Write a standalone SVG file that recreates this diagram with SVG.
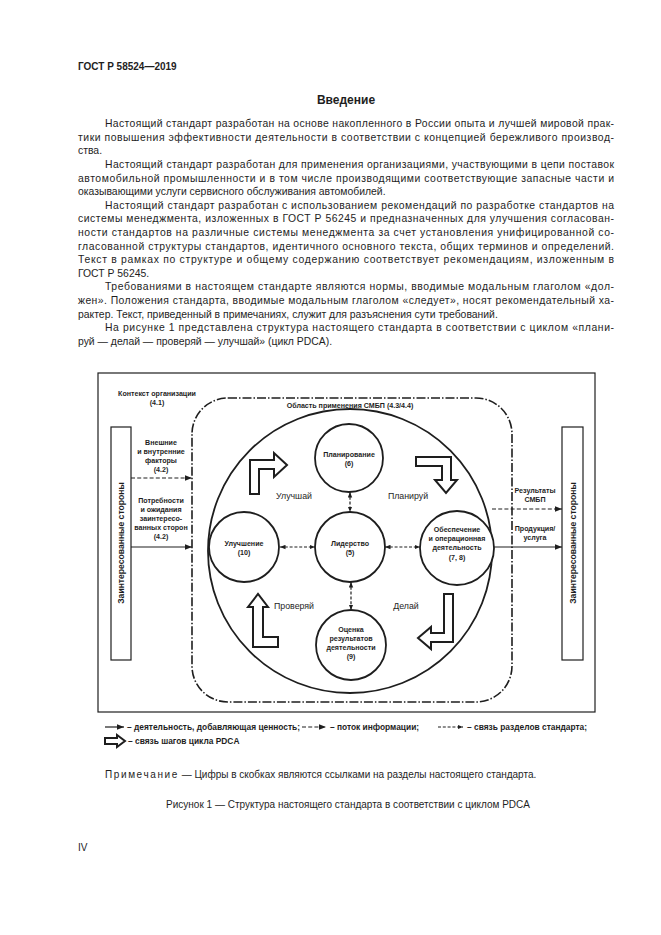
<svg xmlns="http://www.w3.org/2000/svg" width="661" height="935" viewBox="0 0 661 935">
<style>
.t{font-family:"Liberation Sans",Arial,sans-serif;fill:#1e1e1e}
.b{font-size:10.4px}
.d{font-size:7.1px;font-weight:bold}
.lg{font-size:8.4px;font-weight:bold}
.s{font-size:8.8px}
.c{text-anchor:middle}
.ln{fill:none;stroke:#1e1e1e;stroke-width:1.2}
.da{stroke-dasharray:4 2.2}
.dd{stroke-dasharray:3 1.8}
.circ{fill:#fff;stroke:#1e1e1e;stroke-width:1.8}
.hol{fill:#fff;stroke:#1e1e1e;stroke-width:2;stroke-linejoin:miter}
</style>
<defs>
<marker id="ah" markerUnits="userSpaceOnUse" markerWidth="8" markerHeight="6" refX="7" refY="3" orient="auto-start-reverse">
<path d="M0,0.3 L7,3 L0,5.7 z" fill="#1e1e1e"/>
</marker>
<marker id="as" markerUnits="userSpaceOnUse" markerWidth="6" markerHeight="5" refX="5.5" refY="2.5" orient="auto-start-reverse">
<path d="M0,0.3 L5.5,2.5 L0,4.7 z" fill="#1e1e1e"/>
</marker>
</defs>
<rect width="661" height="935" fill="#fff"/>

<g id="page-text">
<text class="t" x="78" y="70" font-size="10" font-weight="bold">ГОСТ Р 58524—2019</text>
<text class="t c" x="346" y="104" font-size="12" font-weight="bold">Введение</text>
<text class="t b" x="105" y="127" textLength="509" lengthAdjust="spacing">Настоящий стандарт разработан на основе накопленного в России опыта и лучшей мировой прак-</text>
<text class="t b" x="78" y="141" textLength="536" lengthAdjust="spacing">тики повышения эффективности деятельности в соответствии с концепцией бережливого производ-</text>
<text class="t b" x="78" y="154">ства.</text>
<text class="t b" x="105" y="168" textLength="509" lengthAdjust="spacing">Настоящий стандарт разработан для применения организациями, участвующими в цепи поставок</text>
<text class="t b" x="78" y="182" textLength="536" lengthAdjust="spacing">автомобильной промышленности и в том числе производящими соответствующие запасные части и</text>
<text class="t b" x="78" y="195">оказывающими услуги сервисного обслуживания автомобилей.</text>
<text class="t b" x="105" y="209" textLength="509" lengthAdjust="spacing">Настоящий стандарт разработан с использованием рекомендаций по разработке стандартов на</text>
<text class="t b" x="78" y="222" textLength="536" lengthAdjust="spacing">системы менеджмента, изложенных в ГОСТ Р 56245 и предназначенных для улучшения согласован-</text>
<text class="t b" x="78" y="236" textLength="536" lengthAdjust="spacing">ности стандартов на различные системы менеджмента за счет установления унифицированной со-</text>
<text class="t b" x="78" y="250" textLength="536" lengthAdjust="spacing">гласованной структуры стандартов, идентичного основного текста, общих терминов и определений.</text>
<text class="t b" x="78" y="263" textLength="536" lengthAdjust="spacing">Текст в рамках по структуре и общему содержанию соответствует рекомендациям, изложенным в</text>
<text class="t b" x="78" y="277">ГОСТ Р 56245.</text>
<text class="t b" x="105" y="290" textLength="509" lengthAdjust="spacing">Требованиями в настоящем стандарте являются нормы, вводимые модальным глаголом «дол-</text>
<text class="t b" x="78" y="304" textLength="536" lengthAdjust="spacing">жен». Положения стандарта, вводимые модальным глаголом «следует», носят рекомендательный ха-</text>
<text class="t b" x="78" y="318">рактер. Текст, приведенный в примечаниях, служит для разъяснения сути требований.</text>
<text class="t b" x="105" y="331" textLength="509" lengthAdjust="spacing">На рисунке 1 представлена структура настоящего стандарта в соответствии с циклом «плани-</text>
<text class="t b" x="78" y="345">руй — делай — проверяй — улучшай» (цикл PDCA).</text>
</g>

<g id="frame">
<rect x="98" y="373" width="497" height="339" fill="none" stroke="#1e1e1e" stroke-width="1.2"/>
</g>

<g id="context">
<text class="t d c" x="157" y="396">Контекст организации</text>
<text class="t d c" x="157" y="405">(4.1)</text>
</g>

<g id="scope">
<rect x="192" y="398" width="320" height="304" rx="36" ry="36" fill="none" stroke="#1e1e1e" stroke-width="1.6" stroke-dasharray="9 2 1.5 2"/>
<text class="t d c" x="350" y="408">Область применения СМБП (4.3/4.4)</text>
</g>

<g id="big-circle">
<circle cx="350" cy="551" r="142" fill="none" stroke="#1e1e1e" stroke-width="1.8"/>
</g>

<g id="stakeholders-left">
<rect x="111" y="427" width="20" height="233" fill="#fff" stroke="#1e1e1e" stroke-width="1.2"/>
<text class="t c" font-size="8.6" font-weight="bold" transform="translate(124,543) rotate(-90)">Заинтересованные стороны</text>
</g>
<g id="stakeholders-right">
<rect x="562" y="427" width="21" height="233" fill="#fff" stroke="#1e1e1e" stroke-width="1.2"/>
<text class="t c" font-size="8.6" font-weight="bold" transform="translate(575.5,543) rotate(-90)">Заинтересованные стороны</text>
</g>

<g id="factors">
<text class="t d c" x="161" y="445">Внешние</text>
<text class="t d c" x="161" y="454">и внутренние</text>
<text class="t d c" x="161" y="463">факторы</text>
<text class="t d c" x="161" y="472">(4.2)</text>
</g>
<g id="needs">
<text class="t d c" x="161" y="503">Потребности</text>
<text class="t d c" x="161" y="512">и ожидания</text>
<text class="t d c" x="161" y="521">заинтересо-</text>
<text class="t d c" x="161" y="530">ванных сторон</text>
<text class="t d c" x="161" y="539">(4.2)</text>
</g>
<g id="results">
<text class="t d c" x="535" y="493">Результаты</text>
<text class="t d c" x="535" y="502">СМБП</text>
</g>
<g id="product">
<text class="t d c" x="535" y="531">Продукция/</text>
<text class="t d c" x="535" y="540">услуга</text>
</g>

<g id="planning">
<circle class="circ" cx="349" cy="458" r="34"/>
<text class="t d c" x="349" y="457">Планирование</text>
<text class="t d c" x="349" y="466">(6)</text>
</g>
<g id="leadership">
<circle class="circ" cx="350" cy="547" r="35"/>
<text class="t d c" x="350" y="546">Лидерство</text>
<text class="t d c" x="350" y="555">(5)</text>
</g>
<g id="improvement">
<circle class="circ" cx="244" cy="547" r="35"/>
<text class="t d c" x="244" y="546">Улучшение</text>
<text class="t d c" x="244" y="555">(10)</text>
</g>
<g id="support">
<circle class="circ" cx="457" cy="548" r="37"/>
<text class="t d c" x="457" y="532">Обеспечение</text>
<text class="t d c" x="457" y="541">и операционная</text>
<text class="t d c" x="457" y="550">деятельность</text>
<text class="t d c" x="457" y="560">(7, 8)</text>
</g>
<g id="evaluation">
<circle class="circ" cx="351" cy="645" r="35"/>
<text class="t d c" x="351" y="632">Оценка</text>
<text class="t d c" x="351" y="641">результатов</text>
<text class="t d c" x="351" y="650">деятельности</text>
<text class="t d c" x="351" y="659">(9)</text>
</g>

<g id="pdca">
<polygon class="hol" points="250,494 250,460 274,460 274,453 287,465 274,477 274,469 259,469 259,494"/>
<text class="t s c" x="294" y="499">Улучшай</text>
<polygon class="hol" points="416,457 451,457 451,480 457,480 446,493 435,480 442,480 442,466 416,466"/>
<text class="t s c" x="408" y="499">Планируй</text>
<polygon class="hol" points="453,594 453,642 431,642 431,649 418,638 431,627 431,633 444,633 444,594"/>
<text class="t s c" x="406" y="609">Делай</text>
<polygon class="hol" points="253,647 253,607 248,607 258,594 268,607 263,607 263,637 278,637 278,647"/>
<text class="t s c" x="294" y="609">Проверяй</text>
</g>

<g id="connectors">
<line class="ln da" x1="131" y1="478" x2="192" y2="478" marker-end="url(#ah)"/>
<line class="ln" x1="131" y1="547" x2="192" y2="547" marker-end="url(#ah)"/>
<line class="ln da" x1="492" y1="509" x2="562" y2="509" marker-end="url(#ah)"/>
<line class="ln" x1="494" y1="547" x2="562" y2="547" marker-end="url(#ah)"/>
<line class="ln dd" x1="280" y1="547" x2="315" y2="547" marker-start="url(#as)" marker-end="url(#as)"/>
<line class="ln dd" x1="385" y1="547" x2="420" y2="547" marker-start="url(#as)" marker-end="url(#as)"/>
<line class="ln dd" x1="350" y1="492" x2="350" y2="512" marker-start="url(#as)" marker-end="url(#as)"/>
<line class="ln dd" x1="351" y1="582" x2="351" y2="610" marker-start="url(#as)" marker-end="url(#as)"/>
</g>

<g id="legend">
<line class="ln" x1="105" y1="727" x2="124" y2="727" marker-end="url(#ah)"/>
<text class="t lg" x="127" y="730">– деятельность, добавляющая ценность;</text>
<line class="ln da" x1="302" y1="727" x2="326" y2="727" marker-end="url(#ah)"/>
<text class="t lg" x="330" y="730">– поток информации;</text>
<line class="ln dd" x1="438" y1="727" x2="463" y2="727" marker-end="url(#as)"/>
<text class="t lg" x="467" y="730">– связь разделов стандарта;</text>
<polygon class="hol" stroke-width="1.4" points="105,738 117,738 117,735 125,741 117,747 117,744 105,744"/>
<text class="t lg" x="128" y="744">– связь шагов цикла PDCA</text>
</g>

<g id="notes">
<text class="t" x="105" y="778" font-size="10"><tspan letter-spacing="1.6">Примечание</tspan> — Цифры в скобках являются ссылками на разделы настоящего стандарта.</text>
<text class="t c" x="348" y="808" font-size="10">Рисунок 1 — Структура настоящего стандарта в соответствии с циклом PDCA</text>
<text class="t" x="78" y="851" font-size="10">IV</text>
</g>
</svg>
